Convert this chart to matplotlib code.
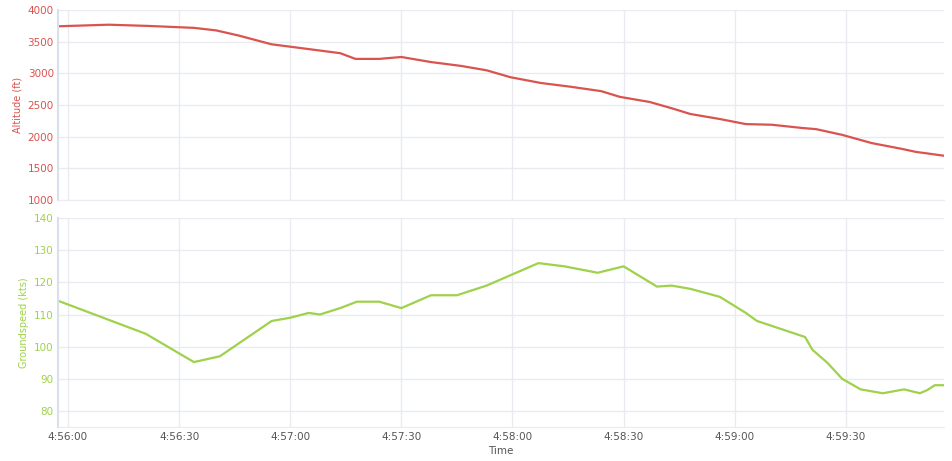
import matplotlib
matplotlib.use("Agg")
import matplotlib.pyplot as plt
from matplotlib.ticker import FuncFormatter

# seconds after 4:56:00
alt_t = [-2.7, 11, 22, 34, 40, 46, 55, 63, 73.5, 77.6, 84, 90, 98, 106, 113, 119.5,
         127.6, 135.7, 144, 149, 157, 163, 168, 176, 183, 190, 198, 202, 209, 217,
         225, 229, 231.6, 236.5]
alt_ft = [3745, 3770, 3750, 3720, 3680, 3600, 3460, 3400, 3320, 3230, 3230, 3260,
          3180, 3120, 3050, 2940, 2850, 2790, 2720, 2630, 2550, 2450, 2360, 2280,
          2200, 2190, 2140, 2120, 2030, 1900, 1810, 1760, 1740, 1700]

gs_t = [-2.7, 21, 34, 41, 55, 60, 65, 68, 73.5, 78, 84, 90, 98, 105, 113, 127, 134,
        143, 150, 159, 163, 168, 176, 183, 186, 199, 201, 205, 209, 214, 220, 225.7,
        230, 232, 234, 236.5]
gs_kts = [114.3, 104, 95.2, 97, 108, 109, 110.5, 110, 112, 114, 114, 112, 116, 116,
          119, 126, 125, 123, 125, 118.7, 119, 118, 115.5, 110.5, 108, 103, 99, 95,
          90, 86.7, 85.5, 86.7, 85.5, 86.5, 88, 88]

RED = "#d9534f"
GREEN = "#9fd14a"
GRID = "#e9ebf0"
AXIS = "#d8e0ee"

fig = plt.figure(figsize=(9.52, 4.61), dpi=100)
ax1 = fig.add_axes([0.0609, 0.566, 0.9307, 0.412])
ax2 = fig.add_axes([0.0609, 0.0738, 0.9307, 0.453])

xt = [0, 30, 60, 90, 120, 150, 180, 210]


def fmt(v, _):
    s = int(round(v)) + 56 * 60
    return f"4:{s // 60:02d}:{s % 60:02d}"


for ax, col in ((ax1, RED), (ax2, GREEN)):
    ax.set_xlim(-2.7, 236.5)
    ax.set_xticks(xt)
    ax.grid(True, color=GRID, lw=1)
    ax.set_axisbelow(True)
    for s in ("top", "right"):
        ax.spines[s].set_visible(False)
    ax.spines["left"].set_color(AXIS)
    ax.spines["left"].set_linewidth(1.5)
    ax.spines["bottom"].set_color(GRID)
    ax.tick_params(axis="y", colors=col, labelsize=7.5, length=0, pad=3)
    ax.tick_params(axis="x", length=0, labelsize=7.5, colors="#555555")

ax1.plot(alt_t, alt_ft, color=RED, lw=1.6)
ax1.set_ylim(1000, 4000)
ax1.set_yticks(range(1000, 4001, 500))
ax1.tick_params(axis="x", labelbottom=False)
ax1.set_ylabel("Altitude (ft)", color=RED, fontsize=7)

ax2.plot(gs_t, gs_kts, color=GREEN, lw=1.6)
ax2.set_ylim(75, 140)
ax2.set_yticks(range(80, 141, 10))
ax2.xaxis.set_major_formatter(FuncFormatter(fmt))
ax2.set_ylabel("Groundspeed (kts)", color=GREEN, fontsize=7)
ax2.set_xlabel("Time", fontsize=7.5, color="#555555", labelpad=3)

fig.savefig("out.png", dpi=100, facecolor="white")
